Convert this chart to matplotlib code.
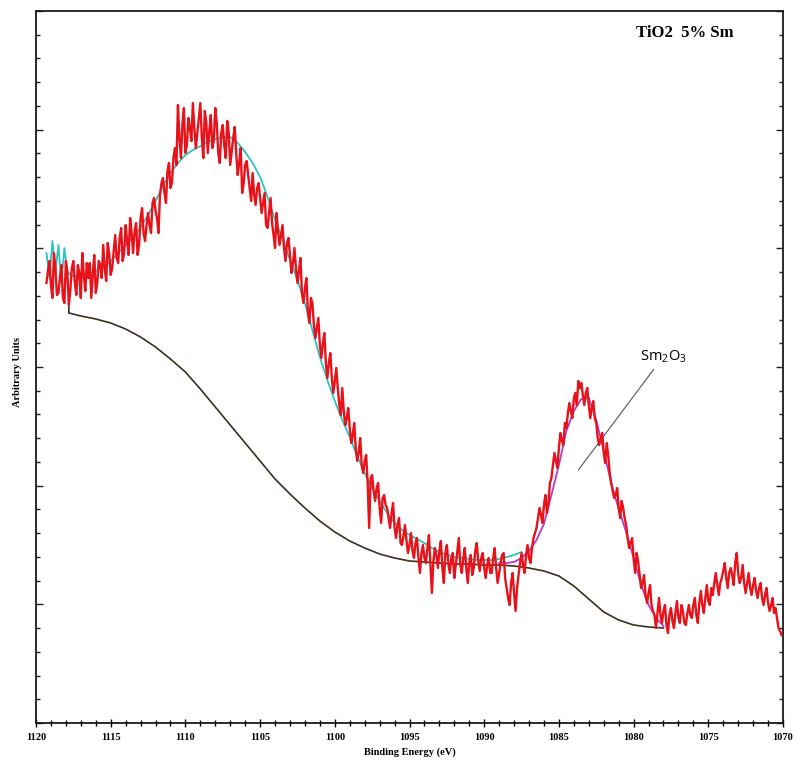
import numpy as np
import matplotlib
matplotlib.use("Agg")
import matplotlib.pyplot as plt
from matplotlib.ticker import MultipleLocator

# Measured Sm 3d spectrum. Main readings every 0.2 eV from 1119.3 eV,
# plus the readings that fall half-way (0.1 eV later) between them.
start_energy = 1119.3
step = 0.1
intensity = [
    440, 462, 425, 455,
    430, 458, 420, 450, 433,
    462, 428, 450, 470, 432,
    445, 425, 468, 440, 458,
    478, 442, 470, 455, 488,
    460, 495, 470, 482, 505,
    470, 500, 478, 515, 482,
    510, 490, 525, 505, 528,
    545, 520, 560, 540, 575,
    618, 565, 615, 578, 595,
    620, 575, 605, 585, 612,
    570, 608, 582, 600, 560,
    598, 565, 590, 572, 596,
    548, 575, 540, 562, 535,
    550, 518, 540, 510, 530,
    495, 525, 488, 510, 478,
    498, 462, 485, 450, 475,
    440, 465, 420, 445, 400,
    420, 385, 405, 365, 390,
    345, 370, 330, 355, 318,
    335, 298, 315, 280, 300,
    262, 285, 250, 268, 195,
    248, 222, 240, 200, 228,
    215, 195, 220, 185, 205,
    178, 198, 170, 190, 165,
    185, 150, 178, 160, 188,
    130, 175, 155, 182, 140,
    178, 150, 170, 158, 185,
    150, 175, 140, 168, 155,
    180, 152, 170, 145, 165,
    150, 175, 140, 160, 170,
    135, 118, 150, 112, 148,
    170, 150, 178, 160, 185,
    195, 215, 200, 228, 220,
    245, 270, 255, 290, 278,
    295, 320, 305, 330, 342,
    340, 318, 335, 305, 322,
    300, 278, 290, 260, 268,
    240, 225, 235, 205, 215,
    198, 175, 185, 150, 162,
    135, 148, 120, 138, 112,
    95, 125, 100, 118, 90,
    115, 95, 122, 100, 112,
    98, 118, 105, 125, 100,
    132, 110, 138, 118, 128,
    150, 128, 145, 160, 135,
    155, 138, 170, 140, 158,
    130, 150, 128, 145, 125,
    140, 118, 135, 112, 125,
    115, 95, 88,
]
intensity_mid = [
    452, 438, 470, 428,
    445, 425, 462, 418, 455,
    440, 458, 425, 448, 460,
    460, 448, 430, 462, 445,
    455, 480, 448, 472, 465,
    485, 462, 498, 468, 490,
    492, 468, 505, 490, 498,
    498, 520, 512, 490, 540,
    530, 552, 535, 565, 558,
    585, 598, 570, 605, 582,
    595, 590, 620, 565, 600,
    592, 575, 615, 570, 590,
    578, 602, 558, 585, 570,
    560, 530, 558, 548, 522,
    528, 535, 525, 520, 498,
    510, 500, 475, 492, 488,
    475, 480, 468, 460, 455,
    452, 430, 435, 410, 425,
    398, 395, 378, 380, 360,
    360, 345, 342, 335, 308,
    312, 305, 295, 288, 275,
    270, 258, 262, 240, 245,
    232, 235, 215, 225, 218,
    205, 210, 195, 198, 180,
    188, 182, 178, 172, 180,
    165, 170, 165, 175, 158,
    162, 168, 172, 155, 170,
    160, 165, 145, 172, 158,
    165, 155, 160, 148, 172,
    162, 165, 155, 158, 150,
    165, 155, 150, 168, 145,
    125, 140, 130, 135, 160,
    158, 168, 165, 175, 190,
    205, 208, 218, 210, 240,
    258, 262, 275, 282, 300,
    310, 312, 325, 318, 335,
    328, 330, 318, 315, 305,
    285, 285, 270, 280, 250,
    232, 228, 215, 222, 205,
    185, 180, 165, 170, 148,
    140, 128, 130, 118, 108,
    110, 108, 112, 98, 108,
    102, 110, 105, 118, 100,
    110, 108, 118, 108, 120,
    118, 125, 122, 135, 140,
    138, 140, 152, 145, 150,
    148, 160, 150, 145, 140,
    140, 135, 138, 132, 135,
    125, 128, 120, 118, 110,
    105, 92,
]

# Raw envelope trace at the high-energy end (0.2 eV steps from 1119.3 eV)
envelope_raw = [470, 445, 482, 450, 478, 440, 475, 452, 448]

# Fitted envelope, 0.5 eV steps from 1117.5 eV
envelope_start = 1117.5
envelope_fit = [
    447, 447, 449, 452, 456, 462, 470, 478, 486, 496,
    508, 522, 537, 550, 560, 568, 573, 577, 581, 584,
    586, 586, 580, 571, 560, 546, 526, 503, 484, 463,
    443, 420, 393, 366, 343, 322, 303, 286, 267, 250,
    235, 222, 210, 200, 193, 188, 184, 180, 175, 171,
    168, 166, 165, 164, 163, 163, 163, 164, 166, 168,
    171,
]

# Sm2O3 component on background, 0.5 eV steps from 1089 eV
sm_start = 1089.0
sm2o3_component = [
    160, 160, 161, 165, 172, 183, 199, 228, 258, 292,
    312, 324, 325, 303, 272, 240, 214, 191, 165, 138,
    118, 105, 97,
]

# Shirley-type background
background_energy = [
    1117.8, 1117.8, 1117, 1116, 1115, 1114, 1113, 1112, 1111, 1110,
    1109, 1108, 1107, 1106, 1105, 1104, 1103, 1102, 1101, 1100,
    1099, 1098, 1097, 1096, 1095, 1094, 1093, 1092, 1091, 1090,
    1089, 1088, 1087, 1086, 1085, 1084, 1083, 1082, 1081, 1080,
    1079, 1078,
]
background = [
    430, 410, 407, 404, 400, 394, 386, 376, 364, 351,
    334, 316, 298, 280, 262, 244, 229, 215, 202, 191,
    182, 175, 169, 165, 162, 161, 160, 159, 159, 158,
    158, 157, 155, 152, 147, 137, 124, 111, 103, 98,
    96, 95,
]

x_ticks = [1120, 1115, 1110, 1105, 1100, 1095, 1090, 1085, 1080, 1075, 1070]

# Interleave main and half-step readings into one trace
spectrum = np.empty(len(intensity) + len(intensity_mid))
spectrum[0::2] = intensity
spectrum[1::2] = intensity_mid
energy = start_energy - step * np.arange(len(spectrum))

env_energy = np.concatenate([
    start_energy - 0.2 * np.arange(len(envelope_raw)),
    envelope_start - 0.5 * np.arange(len(envelope_fit)),
])
env_values = np.concatenate([envelope_raw, envelope_fit])
sm_energy = sm_start - 0.5 * np.arange(len(sm2o3_component))

fig = plt.figure(figsize=(7.95, 7.63), dpi=100)
ax = fig.add_axes([36 / 795, 1 - 723 / 763, 747 / 795, 712 / 763])

ax.plot(background_energy, background, color="#3b2f1f", lw=1.2, zorder=2)
ax.plot(env_energy, env_values, color="#2cc4c0", lw=1.3, zorder=3)
ax.plot(sm_energy, sm2o3_component, color="#b43cc8", lw=1.3, zorder=3)
ax.plot(energy, spectrum, color="#e8121a", lw=1.7, zorder=4)

ax.set_xlim(1120, 1070)
ax.set_ylim(0, 712)
ax.set_xticks(x_ticks)
ax.xaxis.set_minor_locator(MultipleLocator(1))
ax.yaxis.set_major_locator(MultipleLocator(712 / 6))
ax.yaxis.set_minor_locator(MultipleLocator(712 / 30))
ax.tick_params(axis="y", which="both", direction="in", left=True, right=True,
               labelleft=False, width=1.0, color="#222222")
ax.tick_params(axis="y", which="major", length=5)
ax.tick_params(axis="y", which="minor", length=3)
ax.tick_params(axis="x", which="both", direction="inout", top=False, width=1.0)
ax.tick_params(axis="x", which="major", length=6, pad=4)
ax.tick_params(axis="x", which="minor", length=4)
for lbl in ax.get_xticklabels():
    lbl.set_fontfamily("Liberation Serif")
    lbl.set_fontweight("bold")
    lbl.set_fontsize(7.5)
for sp in ax.spines.values():
    sp.set_linewidth(1.3)
    sp.set_color("#1a1a1a")

ax.text(0.869, 0.969, "TiO2  5% Sm", transform=ax.transAxes, ha="center",
        va="center", fontfamily="Liberation Serif", fontweight="bold", fontsize=12)

ax.annotate("Sm$_\\mathregular{2}$O$_\\mathregular{3}$", xy=(1083.7, 253),
            xytext=(1079.6, 366), ha="left", va="center",
            fontfamily="Open Sans", fontsize=10.5,
            arrowprops=dict(arrowstyle="-", color="#555555", lw=0.8,
                            shrinkA=1, shrinkB=0))

fig.text(410 / 795, 1 - 752 / 763, "Binding Energy (eV)", ha="center", va="center",
         fontfamily="Liberation Serif", fontweight="bold", fontsize=7.5)
fig.text(18 / 795, 1 - 372 / 763, "Arbitrary Units", ha="center", va="center",
         rotation=90, fontfamily="Liberation Serif", fontweight="bold", fontsize=7.5)

fig.savefig("out.png", dpi=100, facecolor="white")
